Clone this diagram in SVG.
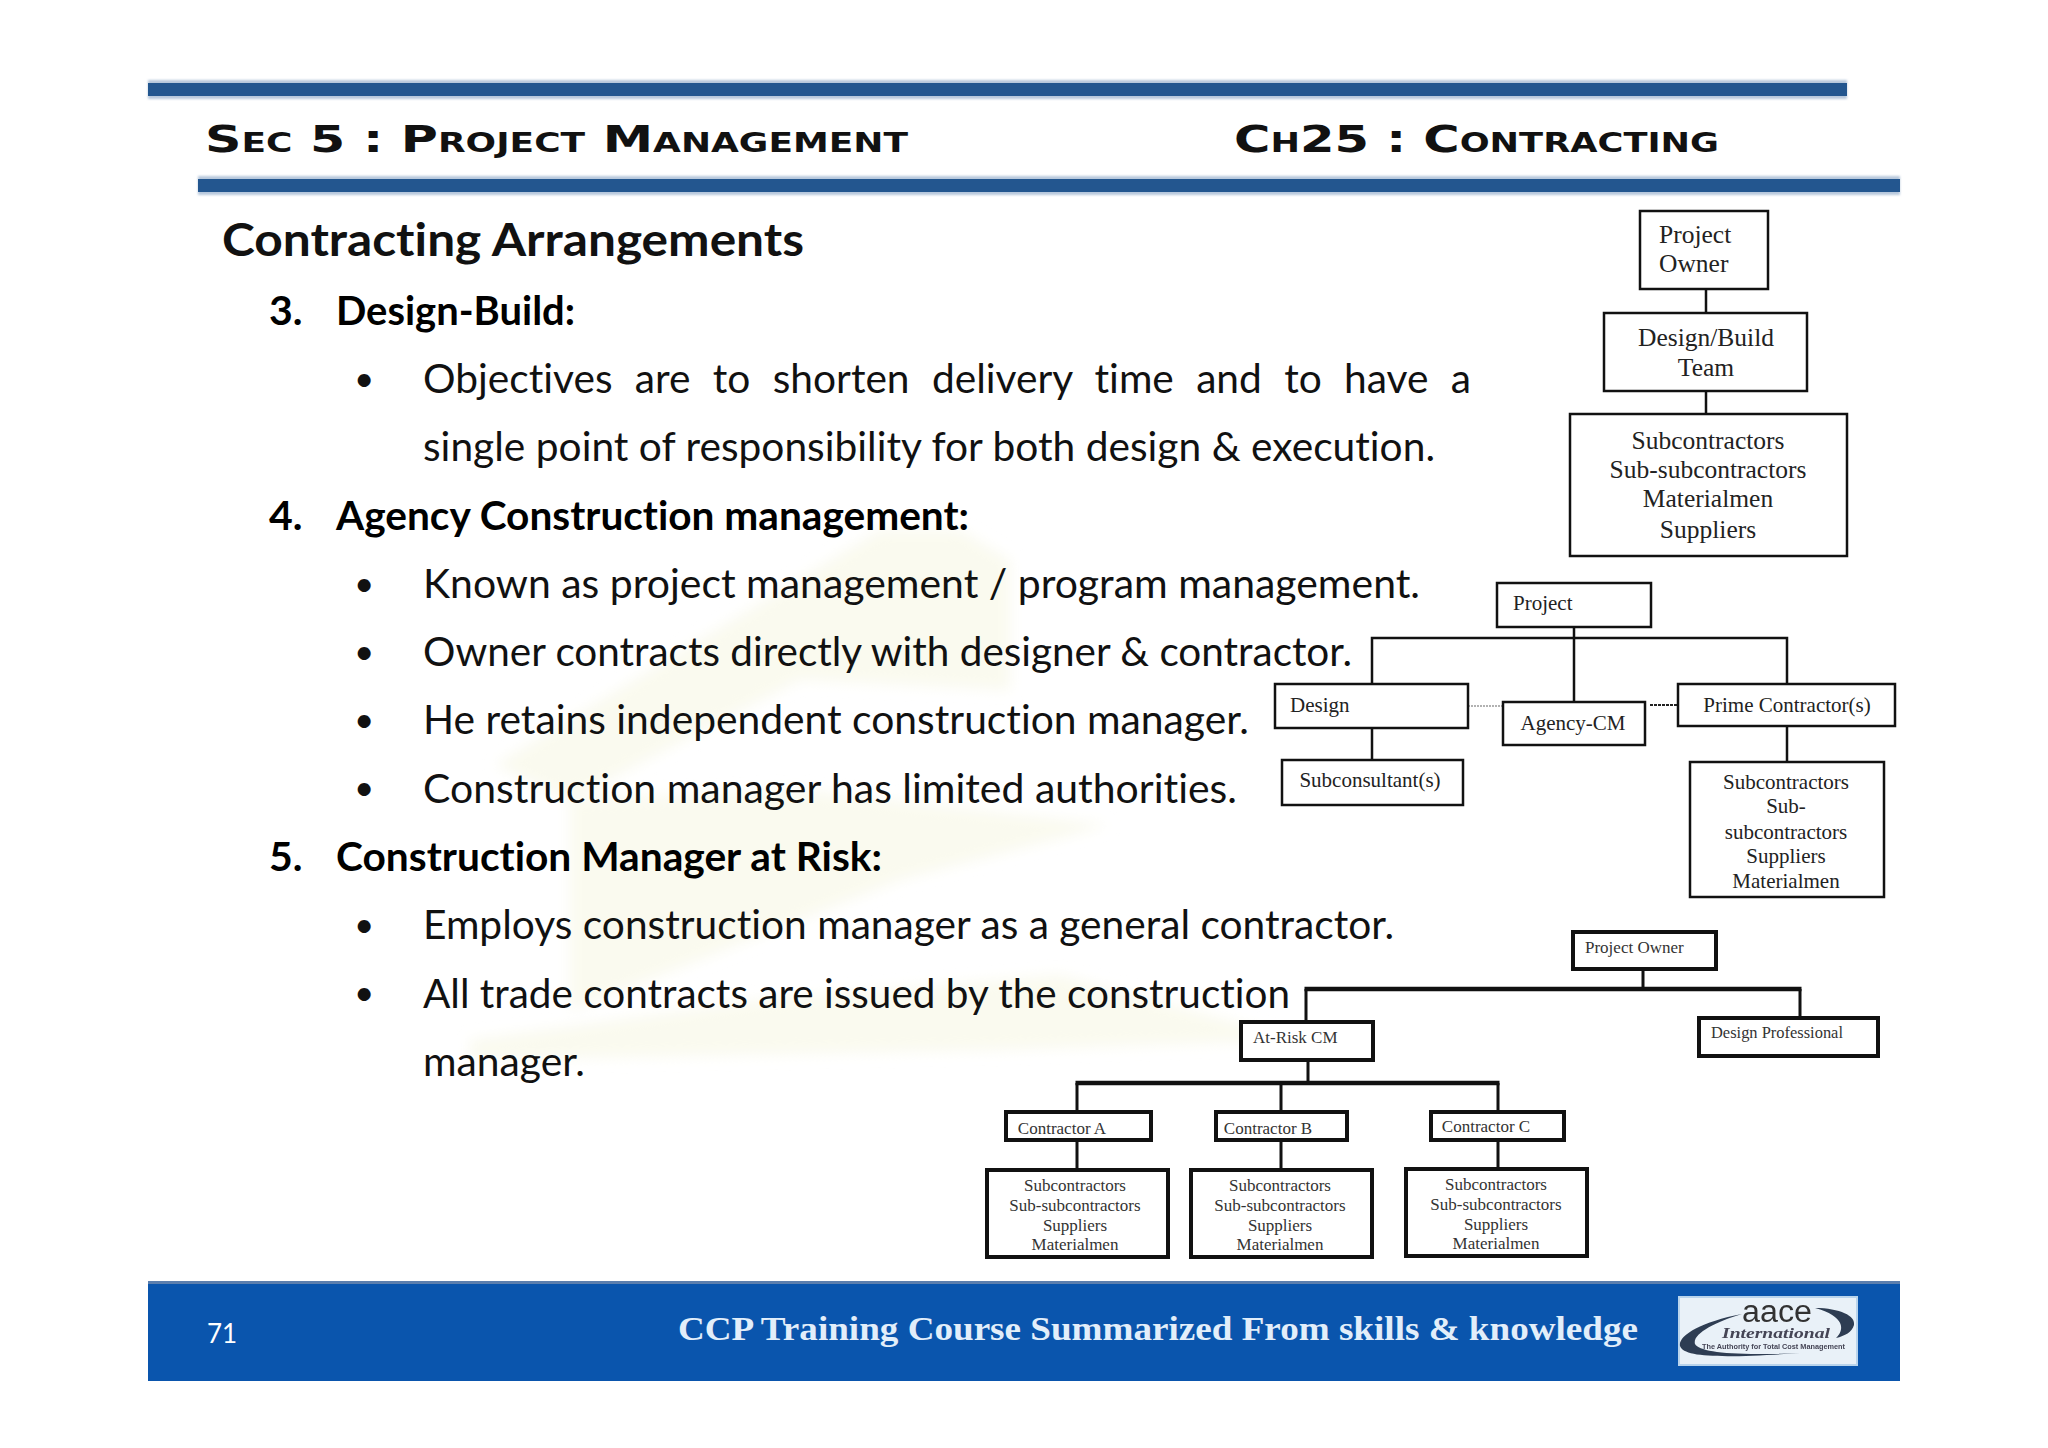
<svg xmlns="http://www.w3.org/2000/svg" width="2048" height="1448" viewBox="0 0 2048 1448">
<style>
text{font-variant-ligatures:none}
.body{font-family:"Lato","Liberation Sans",sans-serif;font-size:41px;fill:#111}
.bul{font-family:"Lato","Liberation Sans",sans-serif;font-size:35px;fill:#111}
.bold{font-weight:700;fill:#000}
.hdr{font-family:"DejaVu Sans",sans-serif;font-weight:700;font-size:38px;font-variant:small-caps;fill:#111}
.box{fill:#fff;stroke:#111;stroke-width:2.5}
.box3{fill:#fff;stroke:#111;stroke-width:4}
.t{font-family:"Liberation Serif",serif;font-size:25.5px;fill:#222;text-anchor:middle}
.t2{font-family:"Liberation Serif",serif;font-size:21px;fill:#222;text-anchor:middle}
.t3{font-family:"Liberation Serif",serif;font-size:17px;fill:#333;text-anchor:middle}
.c{fill:none;stroke:#111;stroke-width:2.5}
.ch{fill:none;stroke:#111;stroke-width:4.5}
.cv{fill:none;stroke:#111;stroke-width:3}
.band{fill:#b7c8dc}
.bar{fill:#23568f}
.wm{fill:#fafaef}
</style>
<defs>
<filter id="soft" x="-10%" y="-10%" width="120%" height="120%"><feGaussianBlur stdDeviation="7"/></filter>
<filter id="edge" x="-5%" y="-50%" width="110%" height="200%"><feGaussianBlur stdDeviation="1"/></filter>
<filter id="logo" x="-5%" y="-5%" width="110%" height="110%"><feGaussianBlur stdDeviation="0.6"/></filter>
</defs>
<rect width="2048" height="1448" fill="#fff"/>
<g id="watermark" filter="url(#soft)">
<path class="wm" d="M495 765L880 530L960 530L1010 560L1010 690L800 680L570 800Z"/>
<path class="wm" d="M570 800L800 790L1110 825L900 880L700 960L570 1010Z"/>
<path class="wm" d="M470 1040L760 1000L1060 975L1300 1040L1000 1050L470 1060Z"/>
</g>
<g id="bars">
<rect class="band" x="148" y="80" width="1699" height="19" filter="url(#edge)"/>
<rect class="bar" x="148" y="83" width="1699" height="13"/>
<rect class="band" x="198" y="176" width="1702" height="19" filter="url(#edge)"/>
<rect class="bar" x="198" y="179" width="1702" height="13"/>
<rect x="148" y="1281" width="1752" height="100" fill="#0a55ad"/>
<rect x="148" y="1281" width="1752" height="3" fill="#5c7fae"/>
</g>
<text class="hdr" x="205" y="152" textLength="703" lengthAdjust="spacingAndGlyphs">Sec 5 : Project Management</text>
<text class="hdr" x="1234" y="152" textLength="485" lengthAdjust="spacingAndGlyphs">Ch25 : Contracting</text>
<text x="222" y="256" font-family="Lato,sans-serif" font-size="46" font-weight="700" fill="#111" textLength="582" lengthAdjust="spacingAndGlyphs">Contracting Arrangements</text>
<g id="body-text">
<text class="body bold" x="269" y="325">3.</text>
<text class="body bold" x="336" y="325" textLength="239" lengthAdjust="spacingAndGlyphs">Design-Build:</text>
<text class="bul" x="354" y="391">•</text>
<text class="body" x="423" y="393" word-spacing="12" textLength="1048" lengthAdjust="spacingAndGlyphs">Objectives are to shorten delivery time and to have a</text>
<text class="body" x="423" y="461" textLength="1012" lengthAdjust="spacingAndGlyphs">single point of responsibility for both design &amp; execution.</text>
<text class="body bold" x="269" y="530">4.</text>
<text class="body bold" x="336" y="530" textLength="633" lengthAdjust="spacingAndGlyphs">Agency Construction management:</text>
<text class="bul" x="354" y="596">•</text>
<text class="body" x="423" y="598" textLength="997" lengthAdjust="spacingAndGlyphs">Known as project management / program management.</text>
<text class="bul" x="354" y="664">•</text>
<text class="body" x="423" y="666" textLength="929" lengthAdjust="spacingAndGlyphs">Owner contracts directly with designer &amp; contractor.</text>
<text class="bul" x="354" y="732">•</text>
<text class="body" x="423" y="734" textLength="826" lengthAdjust="spacingAndGlyphs">He retains independent construction manager.</text>
<text class="bul" x="354" y="800">•</text>
<text class="body" x="423" y="803" textLength="814" lengthAdjust="spacingAndGlyphs">Construction manager has limited authorities.</text>
<text class="body bold" x="269" y="871">5.</text>
<text class="body bold" x="336" y="871" textLength="546" lengthAdjust="spacingAndGlyphs">Construction Manager at Risk:</text>
<text class="bul" x="354" y="937">•</text>
<text class="body" x="423" y="939" textLength="971" lengthAdjust="spacingAndGlyphs">Employs construction manager as a general contractor.</text>
<text class="bul" x="354" y="1005">•</text>
<text class="body" x="423" y="1008" textLength="867" lengthAdjust="spacingAndGlyphs">All trade contracts are issued by the construction</text>
<text class="body" x="423" y="1076" textLength="162" lengthAdjust="spacingAndGlyphs">manager.</text>
</g>
<g id="connectors">
<path class="c" d="M1706 289V312M1706 390V414"/>
<path class="c" d="M1574 627V701M1372 683V638H1787V683M1372 728V759M1787 726V761"/>
<path d="M1468 706H1503" fill="none" stroke="#999" stroke-width="1.5" stroke-dasharray="2 1"/>
<path d="M1650 705H1678" fill="none" stroke="#222" stroke-width="2" stroke-dasharray="3 1"/>
<path class="cv" d="M1643 969V989M1306 1020V989M1800 989V1016M1308 1060V1083M1077 1111V1083M1498 1083V1111M1281 1083V1111M1077 1140V1169M1281 1140V1169M1498 1140V1168"/>
<path class="ch" d="M1304.500 989H1801.500M1075.500 1083H1499.500"/>
</g>
<g id="dgm1-owner"><rect class="box" x="1640" y="211" width="128" height="78"/><text class="t" x="1659" y="243" style="text-anchor:start">Project</text><text class="t" x="1659" y="272" style="text-anchor:start">Owner</text></g>
<g id="dgm1-team"><rect class="box" x="1604" y="313" width="203" height="78"/><text class="t" x="1706" y="346">Design/Build</text><text class="t" x="1706" y="376">Team</text></g>
<g id="dgm1-subs"><rect class="box" x="1570" y="414" width="277" height="142"/><text class="t" x="1708" y="449">Subcontractors</text><text class="t" x="1708" y="478">Sub-subcontractors</text><text class="t" x="1708" y="507">Materialmen</text><text class="t" x="1708" y="538">Suppliers</text></g>
<g id="dgm2-project"><rect class="box" x="1497" y="583" width="154" height="44"/><text class="t2" x="1513" y="610" style="text-anchor:start">Project</text></g>
<g id="dgm2-design"><rect class="box" x="1275" y="684" width="193" height="44"/><text class="t2" x="1290" y="712" style="text-anchor:start">Design</text></g>
<g id="dgm2-agency"><rect class="box" x="1503" y="702" width="142" height="43"/><text class="t2" x="1573" y="730">Agency-CM</text></g>
<g id="dgm2-prime"><rect class="box" x="1678" y="684" width="217" height="42"/><text class="t2" x="1787" y="712">Prime Contractor(s)</text></g>
<g id="dgm2-sub"><rect class="box" x="1282" y="760" width="181" height="45"/><text class="t2" x="1370" y="787">Subconsultant(s)</text></g>
<g id="dgm2-subs"><rect class="box" x="1690" y="762" width="194" height="135"/><text class="t2" x="1786" y="789">Subcontractors</text><text class="t2" x="1786" y="813">Sub-</text><text class="t2" x="1786" y="839">subcontractors</text><text class="t2" x="1786" y="863">Suppliers</text><text class="t2" x="1786" y="888">Materialmen</text></g>
<g id="dgm3-owner"><rect class="box3" x="1573" y="932" width="143" height="37"/><text class="t3" x="1585" y="953" style="text-anchor:start">Project Owner</text></g>
<g id="dgm3-cm"><rect class="box3" x="1241" y="1022" width="132" height="38"/><text class="t3" x="1253" y="1043" style="text-anchor:start">At-Risk CM</text></g>
<g id="dgm3-design"><rect class="box3" x="1699" y="1018" width="179" height="38"/><text class="t3" x="1711" y="1038" style="text-anchor:start" textLength="132" lengthAdjust="spacingAndGlyphs">Design Professional</text></g>
<g id="dgm3-a"><rect class="box3" x="1006" y="1112" width="145" height="28"/><text class="t3" x="1062" y="1134">Contractor A</text></g>
<g id="dgm3-b"><rect class="box3" x="1216" y="1112" width="131" height="28"/><text class="t3" x="1268" y="1134">Contractor B</text></g>
<g id="dgm3-c"><rect class="box3" x="1431" y="1112" width="133" height="28"/><text class="t3" x="1486" y="1132">Contractor C</text></g>
<g id="dgm3-subs-a"><rect class="box3" x="987" y="1170" width="181" height="87"/><text class="t3" x="1075" y="1191">Subcontractors</text><text class="t3" x="1075" y="1211">Sub-subcontractors</text><text class="t3" x="1075" y="1231">Suppliers</text><text class="t3" x="1075" y="1250">Materialmen</text></g>
<g id="dgm3-subs-b"><rect class="box3" x="1191" y="1170" width="181" height="87"/><text class="t3" x="1280" y="1191">Subcontractors</text><text class="t3" x="1280" y="1211">Sub-subcontractors</text><text class="t3" x="1280" y="1231">Suppliers</text><text class="t3" x="1280" y="1250">Materialmen</text></g>
<g id="dgm3-subs-c"><rect class="box3" x="1406" y="1169" width="181" height="87"/><text class="t3" x="1496" y="1190">Subcontractors</text><text class="t3" x="1496" y="1210">Sub-subcontractors</text><text class="t3" x="1496" y="1230">Suppliers</text><text class="t3" x="1496" y="1249">Materialmen</text></g>
<g id="footer">
<text x="207" y="1343" font-family="Lato,sans-serif" font-size="26" fill="#fff">71</text>
<text x="678" y="1340" font-family="Liberation Serif,serif" font-weight="700" font-size="34" fill="#e2eefa" textLength="960" lengthAdjust="spacingAndGlyphs">CCP Training Course Summarized From skills &amp; knowledge</text>
<g id="logo" filter="url(#logo)">
<rect x="1679" y="1297" width="178" height="68" fill="#e9f1f8" stroke="#b9d4ec" stroke-width="2"/>
<path d="M1742 1314C1700 1322 1678 1336 1680 1346C1684 1358 1725 1358 1800 1353C1730 1356 1700 1352 1695 1344C1692 1334 1715 1322 1742 1314Z" fill="#2f3d52"/>
<path d="M1815 1308C1840 1308 1856 1316 1854 1325C1852 1332 1845 1336 1836 1338C1845 1330 1845 1316 1815 1308Z" fill="#2f3d52"/>
<text x="1742" y="1322" font-family="Liberation Sans,sans-serif" font-size="31" fill="#333" textLength="70" lengthAdjust="spacingAndGlyphs">aace</text>
<text x="1722" y="1338" font-family="Liberation Serif,serif" font-style="italic" font-weight="700" font-size="15" fill="#445" textLength="108" lengthAdjust="spacingAndGlyphs">International</text>
<text x="1702" y="1349" font-family="Liberation Sans,sans-serif" font-weight="700" font-size="7" fill="#445" textLength="143" lengthAdjust="spacingAndGlyphs">The Authority for Total Cost Management</text>
</g>
</g>
</svg>
